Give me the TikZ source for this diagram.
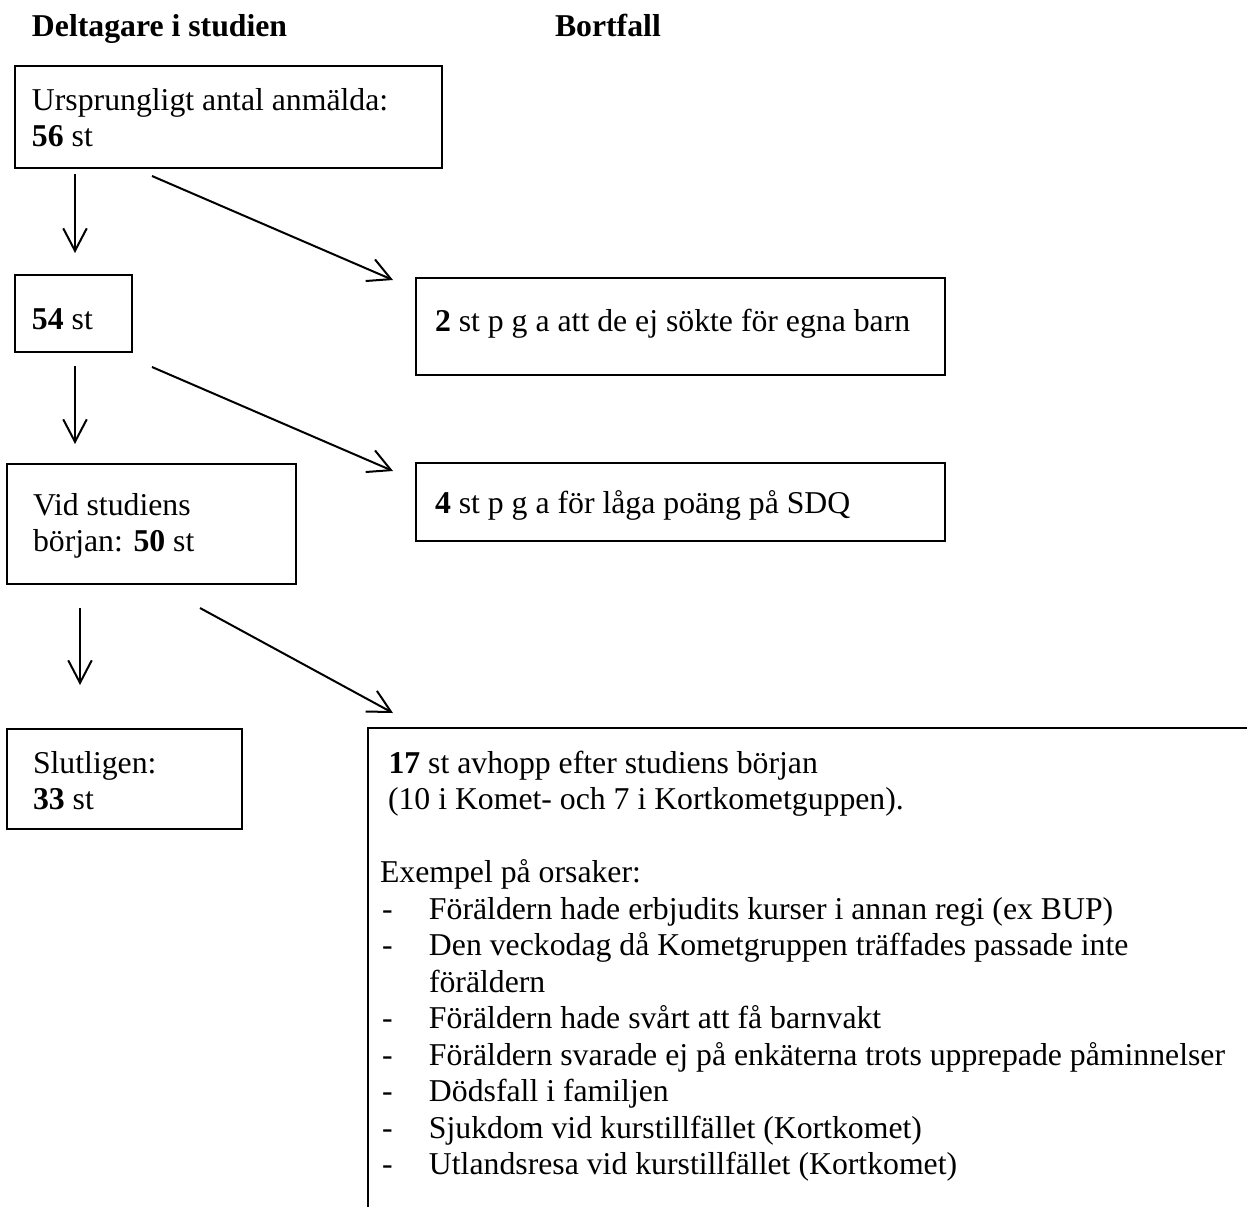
\documentclass[tikz,border=0pt]{standalone}
\usepackage{fontspec}
\setmainfont{Liberation Serif}
\usetikzlibrary{arrows.meta,calc}
\newcommand{\bul}{\makebox[19.6pt][l]{\hspace{0.8pt}-}}
\begin{document}
\begin{tikzpicture}[x=0.4pt,y=-0.4pt,
  font=\fontsize{12.7pt}{14.6pt}\selectfont,
  box/.style={draw,line width=0.8pt,rectangle,anchor=north west,inner sep=0pt,outer sep=0pt},
  txt/.style={anchor=base west,inner sep=0pt,outer sep=0pt},
  arr/.style={line width=0.8pt,-{Straight Barb[length=9pt,width=9.4pt,line width=0.8pt]}}]
\useasboundingbox[fill=white] (0,0) rectangle (1247,1207);

% headings
\node[txt,font=\fontsize{12.7pt}{14.6pt}\selectfont\bfseries] (h1) at (32,36) {Deltagare i studien};
\node[txt,font=\fontsize{12.7pt}{14.6pt}\selectfont\bfseries] (h2) at (555,36) {Bortfall};

% boxes
\node[box,minimum width=170.8pt,minimum height=40.8pt] (b1) at (15,66) {};
\node[box,minimum width=46.8pt,minimum height=30.8pt] (b2) at (15,275) {};
\node[box,minimum width=211.6pt,minimum height=38.8pt] (b3) at (416,278) {};
\node[box,minimum width=115.6pt,minimum height=48pt] (b4) at (7,464) {};
\node[box,minimum width=211.6pt,minimum height=31.2pt] (b5) at (416,463) {};
\node[box,minimum width=94pt,minimum height=40pt] (b6) at (7,729) {};
\coordinate (b7) at (368,728);
\coordinate (b7r) at (1247,728);
\coordinate (b7b) at (368,1207);
\draw[line width=0.8pt] (b7r) -- (b7) -- (b7b);

% texts
\node[txt] (t1) at (32,110) {\vtop{\hbox{Ursprungligt antal anmälda:}\hbox{\textbf{56} st}}};
\node[txt] (t2) at (32,329) {\textbf{54} st};
\node[txt] (t3) at (435,331.7) {\textbf{2} st p g a att de ej sökte för egna barn};
\node[txt] (t4) at (33,515) {\vtop{\hbox{Vid studiens}\hbox{början: \textbf{50} st}}};
\node[txt] (t5) at (435,513) {\textbf{4} st p g a för låga poäng på SDQ};
\node[txt] (t6) at (33,773) {\vtop{\hbox{Slutligen:}\hbox{\textbf{33} st}}};
\node[txt] (t7) at (380,773) {\vtop{%
  \hbox{\hspace{3.4pt}\textbf{17} st avhopp efter studiens början}
  \hbox{\hspace{3.2pt}(10 i Komet- och 7 i Kortkometguppen).}
  \hbox{}
  \hbox{Exempel på orsaker:}
  \hbox{\bul Föräldern hade erbjudits kurser i annan regi (ex BUP)}
  \hbox{\bul Den veckodag då Kometgruppen träffades passade inte}
  \hbox{\hspace{19.6pt}föräldern}
  \hbox{\bul Föräldern hade svårt att få barnvakt}
  \hbox{\bul Föräldern svarade ej på enkäterna trots upprepade påminnelser}
  \hbox{\bul Dödsfall i familjen}
  \hbox{\bul Sjukdom vid kurstillfället (Kortkomet)}
  \hbox{\bul Utlandsresa vid kurstillfället (Kortkomet)}}};

% arrows
\draw[arr] ([shift={(60,6)}]b1.south west) -- ([shift={(60,-22)}]b2.north west);
\draw[arr] ([shift={(137,8)}]b1.south west) -- ([shift={(-23,2)}]b3.north west);
\draw[arr] ([shift={(60,14)}]b2.south west) -- ([shift={(68,-20)}]b4.north west);
\draw[arr] ([shift={(137,15)}]b2.south west) -- ([shift={(-23,8)}]b5.north west);
\draw[arr] ([shift={(73,24)}]b4.south west) -- ([shift={(73,-44)}]b6.north west);
\draw[arr] ([shift={(193,24)}]b4.south west) -- ([shift={(25,-15)}]b7);
\end{tikzpicture}
\end{document}
